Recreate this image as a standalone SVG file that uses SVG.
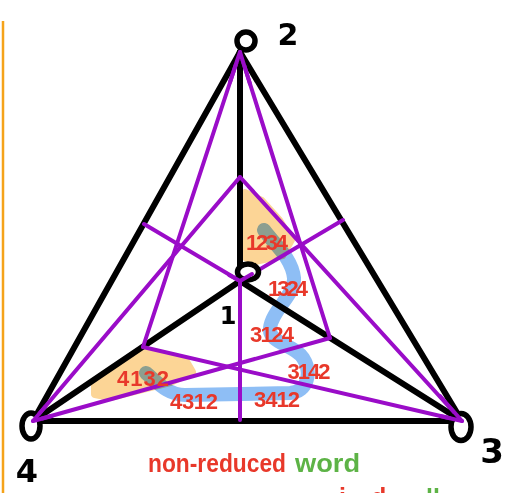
<svg xmlns="http://www.w3.org/2000/svg" width="515" height="493" viewBox="0 0 515 493">
<style>
.edge{stroke:#000;stroke-width:6;stroke-linecap:round;fill:none}
.med{stroke:#9a0cc8;stroke-width:4;stroke-linecap:round;fill:none}
.oval{fill:#fff;stroke:#000;stroke-width:5.5}
.num{font-family:"DejaVu Sans",sans-serif;font-weight:bold;fill:#000}
.lab{font-family:"Liberation Sans",sans-serif;font-size:22px;font-weight:bold;fill:#e8382a;text-anchor:middle}
.hand{font-family:"Liberation Sans",sans-serif;font-size:25px;font-weight:bold}
</style>
<rect width="515" height="493" fill="#fff"/>
<line x1="3" y1="21" x2="3" y2="493" stroke="#f5a31a" stroke-width="2.5"/>
<g id="highlights">
<polygon points="245,192 262,200 280,220 292,240 283,256 255,262 245,258" fill="#fcd596" stroke="#fcd596" stroke-width="6" stroke-linejoin="round"/>
<polygon points="95,385 140,352 185,360 192,372 170,382 110,397 95,394" fill="#fcd596" stroke="#fcd596" stroke-width="8" stroke-linejoin="round"/>
<path d="M264,230 C275,245 292,258 294,278 C295,295 272,310 270,328 C268,343 295,345 303,358 C312,372 308,392 290,393 L185,395 C168,395 158,383 146,373" fill="none" stroke="#8ebef5" stroke-width="14" stroke-linecap="round" style="mix-blend-mode:multiply"/>
</g>
<g id="connectors">
<line class="edge" x1="240" y1="52" x2="33" y2="421"/>
<line class="edge" x1="240" y1="52" x2="462" y2="421"/>
<line class="edge" x1="33" y1="421" x2="462" y2="421"/>
<line class="edge" x1="240" y1="52" x2="240" y2="281"/>
<line class="edge" x1="240" y1="281" x2="33" y2="421"/>
<line class="edge" x1="240" y1="281" x2="462" y2="421"/>
<line class="med" x1="240" y1="52" x2="143" y2="347"/>
<line class="med" x1="240" y1="52" x2="330" y2="338"/>
<line class="med" x1="33" y1="421" x2="240" y2="177"/>
<line class="med" x1="462" y1="421" x2="240" y2="177"/>
<line class="med" x1="33" y1="421" x2="330" y2="338"/>
<line class="med" x1="462" y1="421" x2="143" y2="347"/>
<line class="med" x1="240" y1="281" x2="144" y2="224"/>
<line class="med" x1="240" y1="281" x2="343" y2="220"/>
<line class="med" x1="240" y1="281" x2="240" y2="420"/>
</g>
<g id="node-2">
<ellipse class="oval" cx="246" cy="41" rx="9" ry="9"/>
<line class="edge" x1="240" y1="52" x2="236" y2="62"/>
<line class="edge" x1="240" y1="52" x2="245" y2="62"/>
<line class="med" x1="240" y1="52" x2="230" y2="82"/>
<line class="med" x1="240" y1="52" x2="250" y2="84"/>
<text class="num" x="288" y="45" font-size="30" text-anchor="middle">2</text>
</g>
<g id="node-1">
<ellipse class="oval" cx="248" cy="272" rx="10.5" ry="8"/>
<line class="med" x1="240" y1="281" x2="252" y2="274"/>
<line class="med" x1="240" y1="281" x2="229" y2="275"/>
<text class="num" x="228" y="324" font-size="24" text-anchor="middle">1</text>
</g>
<g id="node-3">
<ellipse class="oval" cx="461" cy="427" rx="10" ry="13.5"/>
<line class="med" x1="462" y1="421" x2="440" y2="416"/>
<line class="med" x1="462" y1="421" x2="440" y2="396"/>
<text class="num" x="492" y="463" font-size="34" text-anchor="middle">3</text>
</g>
<g id="node-4">
<ellipse class="oval" cx="31" cy="426" rx="9" ry="13"/>
<line class="med" x1="33" y1="421" x2="52" y2="416"/>
<line class="med" x1="33" y1="421" x2="45" y2="407"/>
<text class="num" x="27" y="482" font-size="32" text-anchor="middle">4</text>
</g>
<g id="region-labels">
<text class="lab" x="267" y="250" textLength="42">1234</text>
<text class="lab" x="288" y="296" textLength="40">1324</text>
<text class="lab" x="272" y="342" textLength="44">3124</text>
<text class="lab" x="309" y="379" textLength="43">3142</text>
<text class="lab" x="277" y="407" textLength="46">3412</text>
<text class="lab" x="194" y="409" textLength="48">4312</text>
<text class="lab" x="143" y="386" textLength="52">4132</text>
</g>
<g id="caption">
<text class="hand" x="148" y="472" fill="#e8382a" textLength="138" lengthAdjust="spacingAndGlyphs">non-reduced</text>
<text class="hand" x="295" y="472" fill="#5db346" textLength="65" lengthAdjust="spacingAndGlyphs">word</text>
<text class="hand" x="339" y="506" fill="#e8382a">i</text>
<text class="hand" x="371" y="506" fill="#e8382a">d</text>
<text class="hand" x="426" y="507" fill="#5db346">ll</text>
</g>
</svg>
